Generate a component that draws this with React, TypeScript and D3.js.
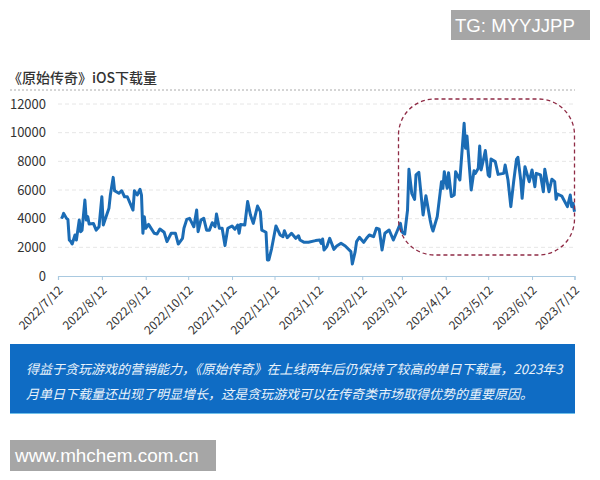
import { useRef, useEffect } from "react";
import * as d3 from "d3";

const startDate = new Date(2022, 6, 12);
const tickDates = [
  "2022/7/12", "2022/8/12", "2022/9/12", "2022/10/12", "2022/11/12", "2022/12/12", "2023/1/12",
  "2023/2/12", "2023/3/12", "2023/4/12", "2023/5/12", "2023/6/12", "2023/7/12",
];
const yTicks = [0, 2000, 4000, 6000, 8000, 10000, 12000];

// days since 2022/7/12
const days = [
  2, 3, 4, 6, 7, 8, 9, 10, 12, 13, 15, 16, 17, 19, 20, 21, 22, 25, 27, 29, 31, 32, 36, 37, 39, 40, 43, 45, 47, 49,
  53, 54, 56, 58, 59, 60, 61, 62, 64, 68, 70, 72, 75, 77, 80, 83, 85, 88, 89, 91, 93, 96, 98, 99, 101, 103, 105,
  107, 109, 111, 112, 114, 116, 118, 120, 123, 125, 127, 128, 129, 132, 134, 136, 138, 141, 143, 144, 147, 148,
  149, 151, 154, 157, 159, 160, 162, 165, 168, 170, 171, 174, 177, 182, 185, 186, 187, 188, 190, 192, 195, 197,
  200, 203, 207, 208, 210, 211, 213, 216, 218, 220, 223, 225, 227, 229, 231, 234, 237, 240, 242, 243, 245, 247,
  248, 250, 252, 253, 255, 258, 260, 263, 264, 265, 268, 271, 272, 273, 275, 276, 278, 280, 281, 284, 287, 288,
  289, 292, 294, 295, 297, 298, 299, 301, 302, 304, 305, 306, 309, 311, 315, 316, 318, 320, 322, 324, 325, 327,
  328, 330, 333, 335, 337, 338, 341, 343, 344, 347, 349, 351, 352, 353, 356, 360, 362, 363, 364, 365,
];
const downloads = [
  4140, 4090, 4370, 4020, 3950, 2510, 2400, 2230, 2860, 2510, 3900, 3090, 3200, 5300, 3900, 4140, 3630, 3670, 3200,
  3440, 5530, 3560, 4720, 5650, 6880, 5950, 5770, 5950, 5530, 5530, 4600, 5950, 5650, 6050, 5650, 2980, 4140, 3330,
  3600, 2980, 2930, 3280, 3050, 2400, 2980, 2980, 2230, 2630, 3330, 3950, 4020, 3440, 4600, 3090, 3900, 4020, 3200,
  3200, 3720, 3440, 4330, 3330, 3330, 2120, 3330, 3490, 3260, 3560, 2980, 3600, 3560, 5190, 4260, 3670, 4880, 4490,
  3200, 3050, 1120, 1120, 1930, 3490, 2860, 2740, 3160, 2670, 2980, 2630, 2810, 2510, 2350, 2350, 2470, 2510, 2280,
  2580, 1810, 2050, 2630, 1860, 2090, 2280, 2090, 1700, 840, 1700, 2400, 2700, 2350, 2630, 2860, 2740, 3330, 3260,
  1810, 2980, 3210, 2510, 3210, 3670, 3090, 2930, 4600, 7440, 5770, 5350, 7050, 7230, 4260, 5600, 3900, 3440, 3140,
  4140, 6580, 6120, 7280, 6120, 7210, 5540, 5650, 7280, 6700, 10650, 8910, 9770, 6000, 7350, 7160, 7510, 9070, 7400,
  8280, 8750, 7050, 6930, 8160, 7980, 7090, 7160, 7750, 6700, 4840, 6580, 8140, 8280, 6700, 5420, 7630, 6580, 7400,
  6230, 7160, 7050, 5880, 7440, 5880, 6750, 6580, 5350, 5720, 5580, 4840, 5650, 4840, 5070, 4490,
];

const titleText = "《原始传奇》iOS下载量";
const noteLines = [
  "得益于贪玩游戏的营销能力，《原始传奇》在上线两年后仍保持了较高的单日下载量，2023年3",
  "月单日下载量还出现了明显增长，这是贪玩游戏可以在传奇类市场取得优势的重要原因。",
];
const cjkFont = "'Noto Sans CJK SC', 'Noto Sans', sans-serif";
const latinFont = "'Liberation Sans', Arial, sans-serif";

export default function App() {
  const ref = useRef<SVGSVGElement | null>(null);

  useEffect(() => {
    const svg = d3.select(ref.current);
    svg.selectAll("*").remove();

    const width = 600;
    const height = 480;
    const parse = d3.timeParse("%Y/%-m/%-d");
    const dates = tickDates.map((d) => parse(d)!);

    const x = d3.scaleTime().domain([dates[0], dates[dates.length - 1]]).range([58, 574.5]);
    const y = d3.scaleLinear().domain([0, 12000]).range([276, 104]);

    svg.append("rect").attr("width", width).attr("height", height).attr("fill", "#fff");

    // 그리드
    svg
      .append("g")
      .selectAll("line")
      .data(yTicks.slice(1))
      .join("line")
      .attr("x1", 58)
      .attr("x2", 574.5)
      .attr("y1", (d) => y(d))
      .attr("y2", (d) => y(d))
      .attr("stroke", "#e6e6e6")
      .attr("stroke-dasharray", "4 3");

    // Y축
    const yAxis = svg
      .append("g")
      .attr("transform", "translate(46,0)")
      .call(d3.axisLeft(y).tickValues(yTicks).tickSize(0).tickPadding(0).tickFormat((d) => String(d)));
    yAxis.select(".domain").remove();
    yAxis.selectAll("text").attr("font-size", 13).attr("font-family", cjkFont).attr("fill", "#333");

    // X축
    const xAxis = svg
      .append("g")
      .attr("transform", "translate(0,276)")
      .call(
        d3
          .axisBottom(x)
          .tickValues(dates)
          .tickSize(4)
          .tickFormat((d) => d3.timeFormat("%Y/%-m/%-d")(d as Date)),
      );
    xAxis.select(".domain").attr("stroke", "#a9c9e0").attr("stroke-width", 1.2);
    xAxis.selectAll("line").attr("stroke", "#a9c9e0");
    xAxis
      .selectAll<SVGTextElement, Date>("text")
      .attr("font-size", 12)
      .attr("font-family", cjkFont)
      .attr("fill", "#333")
      .attr("text-anchor", "end")
      .attr("dy", 0)
      .attr("y", 0)
      .attr("transform", "translate(5,15) rotate(-45)");

    // 라인
    const line = d3
      .line<number>()
      .x((_, i) => x(d3.timeDay.offset(startDate, days[i])))
      .y((d) => y(d));
    svg
      .append("path")
      .datum(downloads)
      .attr("fill", "none")
      .attr("stroke", "#1b6cb5")
      .attr("stroke-width", 3)
      .attr("stroke-linejoin", "round")
      .attr("d", line);

    // title
    svg
      .append("text")
      .attr("x", 8)
      .attr("y", 83)
      .attr("font-size", 14)
      .attr("font-weight", 500)
      .attr("font-family", cjkFont)
      .attr("fill", "#333")
      .text(titleText);
    svg
      .append("line")
      .attr("x1", 10)
      .attr("x2", 575)
      .attr("y1", 90)
      .attr("y2", 90)
      .attr("stroke", "#aaa")
      .attr("stroke-dasharray", "2 2");

    // highlight box
    svg
      .append("rect")
      .attr("x", 398.5)
      .attr("y", 99)
      .attr("width", 176)
      .attr("height", 156)
      .attr("rx", 36)
      .attr("fill", "none")
      .attr("stroke", "#8f2b45")
      .attr("stroke-width", 1.3)
      .attr("stroke-dasharray", "4 3");

    // note
    svg.append("rect").attr("x", 10).attr("y", 344).attr("width", 565).attr("height", 70).attr("fill", "#0f6cc4");
    svg.append("rect").attr("x", 10).attr("y", 413).attr("width", 565).attr("height", 1).attr("fill", "#6fc0ea");
    svg
      .append("g")
      .selectAll("text")
      .data(noteLines)
      .join("text")
      .attr("x", 26)
      .attr("y", (_, i) => 374 + i * 25)
      .attr("font-size", 13)
      .attr("font-style", "italic")
      .attr("font-family", cjkFont)
      .attr("fill", "#eaf3fb")
      .text((d) => d);

    // watermarks
    svg.append("rect").attr("x", 10).attr("y", 440).attr("width", 206).attr("height", 31).attr("fill", "#a6a6a6");
    svg
      .append("text")
      .attr("x", 15)
      .attr("y", 462)
      .attr("font-size", 18.9)
      .attr("font-family", latinFont)
      .attr("fill", "#fff")
      .text("www.mhchem.com.cn");
    svg.append("rect").attr("x", 451).attr("y", 10).attr("width", 139).attr("height", 30).attr("fill", "#a6a6a6");
    svg
      .append("text")
      .attr("x", 455)
      .attr("y", 32)
      .attr("font-size", 18.6)
      .attr("font-family", latinFont)
      .attr("fill", "#fff")
      .text("TG: MYYJJPP");
  }, []);

  return <svg ref={ref} width={600} height={480} style={{ position: "absolute", left: 0, top: 0 }}></svg>;
}
